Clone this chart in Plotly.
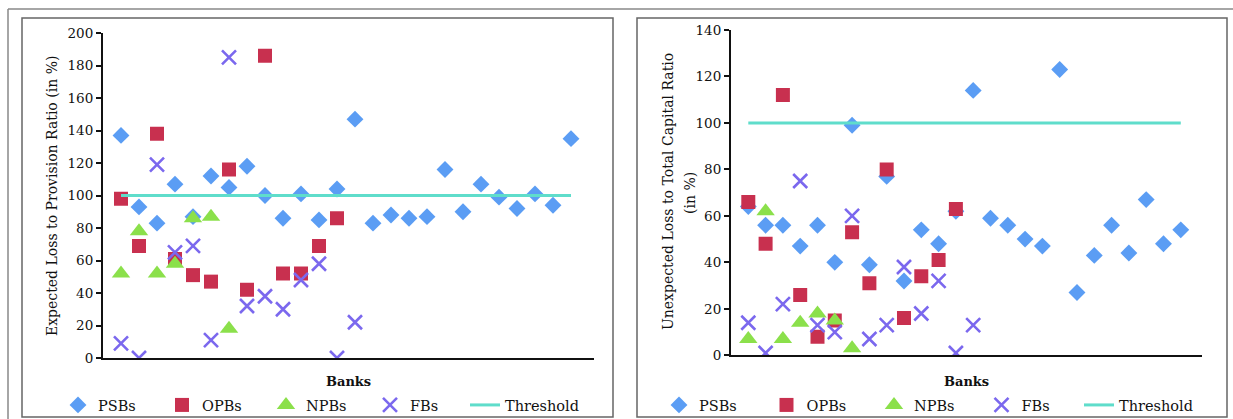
import plotly.graph_objects as go

W, H = 1233, 419

banks = list(range(1, 27))

psb_left = [137, 93, 83, 107, 87, 112, 105, 118, 100, 86, 101, 85, 104, 147,
            83, 88, 86, 87, 116, 90, 107, 99, 92, 101, 94, 135]
opb_left = [98, 69, 138, 61, 51, 47, 116, 42, 186, 52, 52, 69, 86]
npb_left = [52, 78, 52, 58, 86, 87, 18]
fb_left = [9, 0, 119, 65, 69, 11, 185, 32, 38, 30, 48, 58, 0, 22]
threshold_left = 100

psb_right = [64, 56, 56, 47, 56, 40, 99, 39, 77, 32, 54, 48, 62, 114,
             59, 56, 50, 47, 123, 27, 43, 56, 44, 67, 48, 54]
opb_right = [66, 48, 112, 26, 8, 15, 53, 31, 80, 16, 34, 41, 63]
npb_right = [7, 62, 7, 14, 18, 15, 3]
fb_right = [14, 1, 22, 75, 13, 10, 60, 7, 13, 38, 18, 32, 1, 13]
threshold_right = 100

y_ticks_left = [0, 20, 40, 60, 80, 100, 120, 140, 160, 180, 200]
y_ticks_right = [0, 20, 40, 60, 80, 100, 120, 140]

series_names = ["PSBs", "OPBs", "NPBs", "FBs", "Threshold"]
y_title_left = "Expected Loss to Provision Ratio (in %)"
y_title_right = ["Unexpected Loss to Total Capital Ratio", "(in %)"]
x_title = "Banks"

C_PSB = "#5B9DF4"
C_OPB = "#C8304F"
C_NPB = "#8BE04B"
C_FB = "#7B68EE"
C_TH = "#5FDDCB"

FONT = "DejaVu Serif"
TXT = "#111"

def px_x(p):
    return p / W

def px_y(p):
    return (H - p) / H

fig = go.Figure()

def add_panel(xa, ya, legend, legend_th, psb, opb, npb, fb, thr):
    fig.add_trace(go.Scatter(x=banks[:len(psb)], y=psb, mode="markers", name=series_names[0],
                             marker=dict(symbol="diamond", size=13, color=C_PSB),
                             xaxis=xa, yaxis=ya, legend=legend))
    fig.add_trace(go.Scatter(x=banks[:len(opb)], y=opb, mode="markers", name=series_names[1],
                             marker=dict(symbol="square", size=14, color=C_OPB),
                             xaxis=xa, yaxis=ya, legend=legend))
    fig.add_trace(go.Scatter(x=banks[:len(npb)], y=npb, mode="markers", name=series_names[2],
                             marker=dict(symbol="triangle-up", size=16, color=C_NPB),
                             xaxis=xa, yaxis=ya, legend=legend))
    fig.add_trace(go.Scatter(x=banks[:len(fb)], y=fb, mode="markers", name=series_names[3],
                             marker=dict(symbol="x-thin", size=14, color=C_FB,
                                         line=dict(color=C_FB, width=2.6)),
                             xaxis=xa, yaxis=ya, legend=legend))
    fig.add_trace(go.Scatter(x=[banks[0], banks[-1]], y=[thr, thr], mode="lines", name=series_names[4],
                             line=dict(color=C_TH, width=3),
                             xaxis=xa, yaxis=ya, legend=legend_th))

add_panel("x", "y", "legend", "legend3", psb_left, opb_left, npb_left, fb_left, threshold_left)
add_panel("x2", "y2", "legend2", "legend4", psb_right, opb_right, npb_right, fb_right, threshold_right)

tickfont = dict(family=FONT, size=13.5, color=TXT)

xcommon = dict(range=[0, 27.25], showgrid=False, zeroline=False, showticklabels=False,
               showline=True, linecolor="#111", linewidth=2, ticks="", fixedrange=True,
               automargin=False)
ycommon = dict(showgrid=False, zeroline=False, showline=True, linecolor="#111", linewidth=2,
               ticks="outside", ticklen=5, tickwidth=1.5, tickcolor="#111", tickfont=tickfont,
               automargin=False)

legfont = dict(family=FONT, size=14.5, color=TXT)

def leg(x, ew):
    return dict(orientation="h", x=px_x(x), y=px_y(405), xanchor="left", yanchor="middle",
                entrywidth=ew, entrywidthmode="pixels", font=legfont,
                bgcolor="rgba(0,0,0,0)", itemclick=False, tracegroupgap=0)

fig.update_layout(
    width=W, height=H,
    margin=dict(l=0, r=0, t=0, b=0, autoexpand=False),
    paper_bgcolor="white", plot_bgcolor="rgba(0,0,0,0)",
    font=dict(family=FONT, size=13, color=TXT),
    xaxis=dict(domain=[px_x(103), px_x(593.5)], anchor="y", **xcommon),
    yaxis=dict(domain=[px_y(358), px_y(33)], anchor="x", range=[0, 200],
               tickvals=y_ticks_left, **ycommon),
    xaxis2=dict(domain=[px_x(731), px_x(1202.4)], anchor="y2", **xcommon),
    yaxis2=dict(domain=[px_y(355.3), px_y(30)], anchor="x2", range=[0, 140],
                tickvals=y_ticks_right, **ycommon),
    legend=leg(58, 59),
    legend2=leg(659, 62.5),
    legend3=leg(465, 100),
    legend4=leg(1079, 100),
    showlegend=True,
)

bold = dict(family=FONT, size=13, color=TXT, weight="bold")
ytf = dict(family=FONT, size=14, color=TXT)
annotations = [
    dict(text=x_title, x=px_x(348), y=px_y(381), xref="paper", yref="paper", showarrow=False,
         font=bold, xanchor="center", yanchor="middle"),
    dict(text=x_title, x=px_x(966), y=px_y(381), xref="paper", yref="paper", showarrow=False,
         font=bold, xanchor="center", yanchor="middle"),
    dict(text=y_title_left, x=px_x(52), y=px_y(196), xref="paper", yref="paper", showarrow=False,
         textangle=-90, font=ytf, xanchor="center", yanchor="middle"),
    dict(text=y_title_right[0], x=px_x(668), y=px_y(192), xref="paper", yref="paper", showarrow=False,
         textangle=-90, font=ytf, xanchor="center", yanchor="middle"),
    dict(text=y_title_right[1], x=px_x(690), y=px_y(193), xref="paper", yref="paper", showarrow=False,
         textangle=-90, font=ytf, xanchor="center", yanchor="middle"),
]
fig.update_layout(annotations=annotations)

shapes = [
    dict(type="rect", xref="paper", yref="paper", x0=px_x(22), x1=px_x(613), y0=px_y(417), y1=px_y(18),
         line=dict(color="#666", width=1.5), fillcolor="rgba(0,0,0,0)", layer="below"),
    dict(type="rect", xref="paper", yref="paper", x0=px_x(637), x1=px_x(1227), y0=px_y(417), y1=px_y(18),
         line=dict(color="#666", width=1.5), fillcolor="rgba(0,0,0,0)", layer="below"),
    dict(type="line", xref="paper", yref="paper", x0=px_x(8), x1=px_x(1233), y0=px_y(9), y1=px_y(9),
         line=dict(color="#888", width=1.5), layer="below"),
    dict(type="line", xref="paper", yref="paper", x0=px_x(8), x1=px_x(8), y0=px_y(9), y1=px_y(419),
         line=dict(color="#888", width=1.5), layer="below"),
]
fig.update_layout(shapes=shapes)

fig.write_html("out.html")
